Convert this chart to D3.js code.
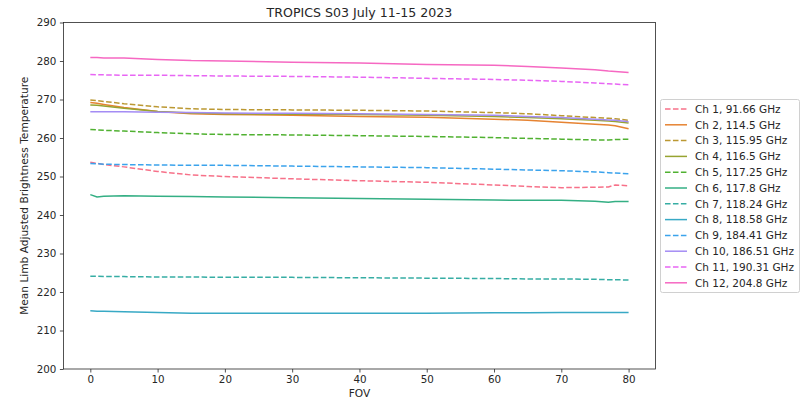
<!DOCTYPE html>
<html>
<head>
<meta charset="utf-8">
<script src="https://cdn.jsdelivr.net/npm/d3@7"></script>
<style>
  html, body { margin: 0; padding: 0; background: #fff; }
  svg { display: block; font-family: "DejaVu Sans", sans-serif; }
</style>
</head>
<body>
<svg id="chart" width="812" height="405"></svg>
<script>
// Field-of-view sample positions
const fov = [0, 1, 2, 5, 10, 15, 20, 30, 40, 50, 60, 65, 70, 75, 77, 78, 80];

// Mean limb-adjusted brightness temperature (K) per channel at each FOV
const ch1  = [253.7, 253.4, 253.1, 252.5, 251.3, 250.4, 250.0, 249.4, 248.9, 248.5, 247.8, 247.4, 247.1, 247.2, 247.3, 247.8, 247.6];
const ch2  = [269.2, 269.0, 268.7, 267.9, 266.9, 266.3, 266.1, 265.9, 265.6, 265.4, 264.9, 264.6, 264.1, 263.6, 263.4, 263.2, 262.4];
const ch3  = [269.9, 269.7, 269.5, 268.9, 268.1, 267.6, 267.4, 267.3, 267.2, 267.0, 266.6, 266.3, 265.8, 265.3, 265.1, 265.0, 264.6];
const ch4  = [268.6, 268.5, 268.3, 267.7, 266.9, 266.5, 266.3, 266.2, 266.1, 265.9, 265.6, 265.3, 265.0, 264.6, 264.4, 264.3, 263.9];
const ch5  = [262.2, 262.1, 262.0, 261.8, 261.4, 261.1, 260.9, 260.8, 260.6, 260.4, 260.1, 259.9, 259.7, 259.5, 259.5, 259.6, 259.7];
const ch6  = [245.3, 244.7, 244.9, 245.0, 244.9, 244.8, 244.7, 244.5, 244.3, 244.1, 243.9, 243.8, 243.8, 243.6, 243.3, 243.5, 243.5];
const ch7  = [224.1, 224.1, 224.0, 224.0, 223.9, 223.9, 223.8, 223.8, 223.7, 223.6, 223.5, 223.4, 223.4, 223.3, 223.2, 223.2, 223.1];
const ch8  = [215.1, 215.0, 215.0, 214.9, 214.7, 214.5, 214.5, 214.5, 214.5, 214.5, 214.6, 214.6, 214.7, 214.7, 214.7, 214.7, 214.7];
const ch9  = [253.4, 253.3, 253.2, 253.1, 253.0, 252.9, 252.9, 252.7, 252.5, 252.3, 251.9, 251.7, 251.5, 251.2, 251.0, 250.9, 250.7];
const ch10 = [266.8, 266.8, 266.8, 266.8, 266.7, 266.6, 266.5, 266.4, 266.3, 266.1, 265.9, 265.6, 265.3, 264.9, 264.7, 264.6, 264.2];
const ch11 = [276.5, 276.4, 276.4, 276.3, 276.3, 276.2, 276.1, 276.0, 275.8, 275.5, 275.2, 275.0, 274.7, 274.3, 274.1, 274.0, 273.8];
const ch12 = [280.9, 280.9, 280.8, 280.8, 280.4, 280.1, 280.0, 279.7, 279.5, 279.1, 278.9, 278.6, 278.2, 277.7, 277.4, 277.3, 277.0];

const channelNames = [
  "Ch 1, 91.66 GHz", "Ch 2, 114.5 GHz", "Ch 3, 115.95 GHz", "Ch 4, 116.5 GHz",
  "Ch 5, 117.25 GHz", "Ch 6, 117.8 GHz", "Ch 7, 118.24 GHz", "Ch 8, 118.58 GHz",
  "Ch 9, 184.41 GHz", "Ch 10, 186.51 GHz", "Ch 11, 190.31 GHz", "Ch 12, 204.8 GHz"
];
const channelValues = [ch1, ch2, ch3, ch4, ch5, ch6, ch7, ch8, ch9, ch10, ch11, ch12];
const channelDashed = [true, false, true, false, true, false, true, false, true, false, true, false];
const channelColors = ["#f77189", "#e68332", "#bb9832", "#97a431", "#50b131", "#34af84",
                       "#36ada4", "#38a9c5", "#3ba3ec", "#a48cf4", "#e866f4", "#f668c2"];

const xTicks = [0, 10, 20, 30, 40, 50, 60, 70, 80];
const yTicks = [200, 210, 220, 230, 240, 250, 260, 270, 280, 290];

const titleText = "TROPICS S03 July 11-15 2023";
const xLabel = "FOV";
const yLabel = "Mean Limb Adjusted Brightness Temperature";

const svg = d3.select("#chart");
const plot = { left: 63.4, right: 655.5, top: 22.5, bottom: 369 };

const x = d3.scaleLinear().domain([-4, 84]).range([plot.left, plot.right]);
const y = d3.scaleLinear().domain([200, 290]).range([plot.bottom, plot.top]);

const textColor = "#262626";

// Series lines
const line = d3.line().x((d, i) => x(fov[i])).y(d => y(d));
const seriesG = svg.append("g");
channelValues.forEach((vals, k) => {
  seriesG.append("path")
    .datum(vals)
    .attr("d", line)
    .attr("fill", "none")
    .attr("stroke", channelColors[k])
    .attr("stroke-width", 1.5)
    .attr("stroke-dasharray", channelDashed[k] ? "5.55,2.4" : null)
    .attr("stroke-linecap", "butt");
});

// Axes
const xAxis = d3.axisBottom(x).tickValues(xTicks).tickSize(3.5).tickPadding(3.5).tickFormat(d3.format("d"));
const yAxis = d3.axisLeft(y).tickValues(yTicks).tickSize(3.5).tickPadding(3.5).tickFormat(d3.format("d"));

const gx = svg.append("g").attr("transform", `translate(0,${plot.bottom})`).call(xAxis);
const gy = svg.append("g").attr("transform", `translate(${plot.left},0)`).call(yAxis);
[gx, gy].forEach(g => {
  g.select(".domain").remove();
  g.selectAll(".tick line").attr("stroke", textColor).attr("stroke-width", 0.8);
  g.selectAll(".tick text").attr("fill", textColor).style("font-size", "10.3px")
    .style("font-family", "'DejaVu Sans', sans-serif");
});

// Frame
svg.append("rect")
  .attr("x", plot.left).attr("y", plot.top)
  .attr("width", plot.right - plot.left).attr("height", plot.bottom - plot.top)
  .attr("fill", "none").attr("stroke", textColor).attr("stroke-width", 0.8);

// Title and axis labels
svg.append("text")
  .attr("x", (plot.left + plot.right) / 2).attr("y", 17)
  .attr("text-anchor", "middle").attr("fill", textColor)
  .style("font-size", "12.6px").text(titleText);

svg.append("text")
  .attr("x", (plot.left + plot.right) / 2).attr("y", 397)
  .attr("text-anchor", "middle").attr("fill", textColor)
  .style("font-size", "10.6px").text(xLabel);

svg.append("text")
  .attr("transform", `translate(28,${(plot.top + plot.bottom) / 2}) rotate(-90)`)
  .attr("text-anchor", "middle").attr("fill", textColor)
  .style("font-size", "10.6px").text(yLabel);

// Legend
const legend = svg.append("g").attr("transform", "translate(660,99)");
legend.append("rect")
  .attr("x", 0.5).attr("y", 0.5).attr("width", 139).attr("height", 193).attr("rx", 2)
  .attr("fill", "#fff").attr("stroke", "#d0d0d0").attr("stroke-width", 1);
channelNames.forEach((name, k) => {
  const row = legend.append("g").attr("transform", `translate(0,${10 + k * 15.8})`);
  row.append("line")
    .attr("x1", 5).attr("x2", 27).attr("y1", 0).attr("y2", 0)
    .attr("stroke", channelColors[k]).attr("stroke-width", 1.5)
    .attr("stroke-dasharray", channelDashed[k] ? "5.55,2.4" : null);
  row.append("text")
    .attr("x", 35).attr("y", 3.8)
    .attr("fill", textColor).style("font-size", "10.5px").text(name);
});
</script>
</body>
</html>
